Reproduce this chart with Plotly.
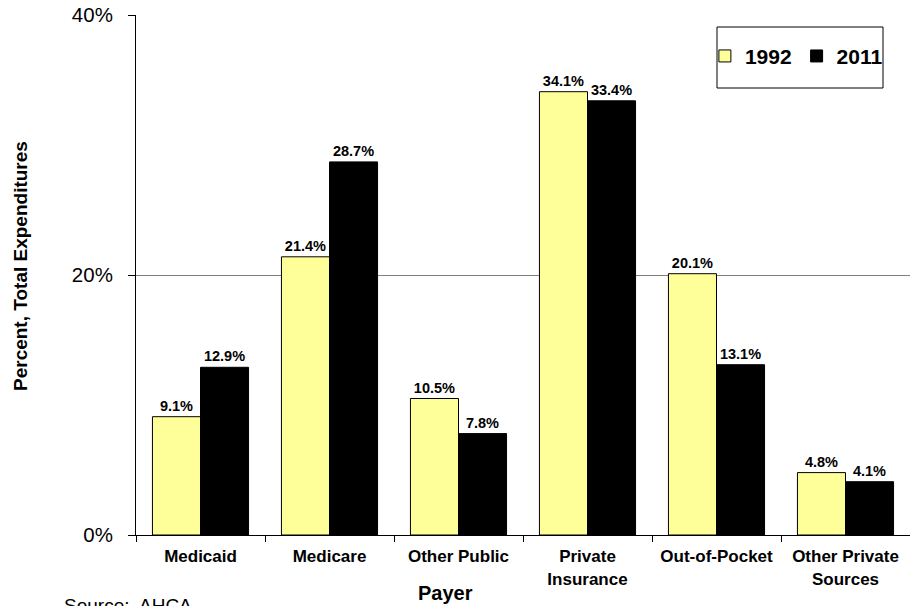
import plotly.graph_objects as go

categories = ["Medicaid", "Medicare", "Other Public", "Private<br>Insurance",
              "Out-of-Pocket", "Other Private<br>Sources"]
values_1992 = [9.1, 21.4, 10.5, 34.1, 20.1, 4.8]
values_2011 = [12.9, 28.7, 7.8, 33.4, 13.1, 4.1]
series_names = ["1992", "2011"]
y_ticks = [0, 20, 40]
y_tick_labels = ["0%", "20%", "40%"]

FONT = "Liberation Sans, Arial, sans-serif"

fig = go.Figure()
for name, vals, color in [(series_names[0], values_1992, "#FFFF99"),
                          (series_names[1], values_2011, "#000000")]:
    fig.add_trace(go.Bar(
        x=categories, y=vals, name=name,
        marker=dict(color=color, line=dict(color="#000000", width=1)),
        text=[f"{v:.1f}%" for v in vals],
        textposition="outside",
        textfont=dict(family=FONT, size=14.5, color="#000000", weight="bold"),
        constraintext="none",
        cliponaxis=False,
    ))

fig.update_layout(
    width=910, height=606,
    margin=dict(l=136, r=0, t=15, b=71),
    paper_bgcolor="white", plot_bgcolor="white",
    barmode="group", bargap=0.255, bargroupgap=0,
    font=dict(family=FONT, color="#000000"),
    showlegend=True,
    legend=dict(
        orientation="h", x=0.735, y=0.960, xanchor="left", yanchor="top",
        font=dict(family=FONT, size=21, color="#000000", weight="bold"),
        bgcolor="rgba(0,0,0,0)", borderwidth=0,
        itemwidth=30, traceorder="normal",
    ),
    xaxis=dict(
        showline=True, linecolor="#000000", linewidth=1,
        ticks="outside", tickson="boundaries", ticklen=6, tickcolor="#000000",
        ticklabelstandoff=6,
        tickfont=dict(family=FONT, size=17, color="#000000", weight="bold"),
        showgrid=False,
    ),
    yaxis=dict(
        range=[0, 40], tickvals=y_ticks, ticktext=y_tick_labels,
        showline=True, linecolor="#000000", linewidth=1,
        ticks="outside", ticklen=7, tickcolor="#000000",
        ticklabelstandoff=11,
        tickfont=dict(family=FONT, size=20.5, color="#000000"),
        showgrid=True, gridcolor="#808080", gridwidth=1,
        zeroline=False,
    ),
    shapes=[dict(type="rect", xref="paper", yref="paper",
                 x0=(717 - 136) / 774, x1=(883 - 136) / 774,
                 y0=(535 - 88) / 520, y1=(535 - 27) / 520,
                 line=dict(color="#000000", width=1), fillcolor="rgba(0,0,0,0)")],
    annotations=[
        dict(text="Source:  AHCA", xref="paper", yref="paper",
             x=(62 - 136) / 774, y=(535 - 593) / 520,
             xanchor="left", yanchor="top", showarrow=False,
             font=dict(family=FONT, size=19, color="#000000")),
        dict(text="<b>Payer</b>", xref="paper", yref="paper",
             x=(445 - 136) / 774, y=(535 - 593) / 520,
             xanchor="center", yanchor="middle", showarrow=False,
             font=dict(family=FONT, size=20, color="#000000")),
        dict(text="<b>Percent, Total Expenditures</b>", xref="paper", yref="paper",
             x=(20 - 136) / 774, y=(535 - 266) / 520, textangle=-90,
             xanchor="center", yanchor="middle", showarrow=False,
             font=dict(family=FONT, size=19, color="#000000")),
    ],
)

fig.write_html("out.html")
